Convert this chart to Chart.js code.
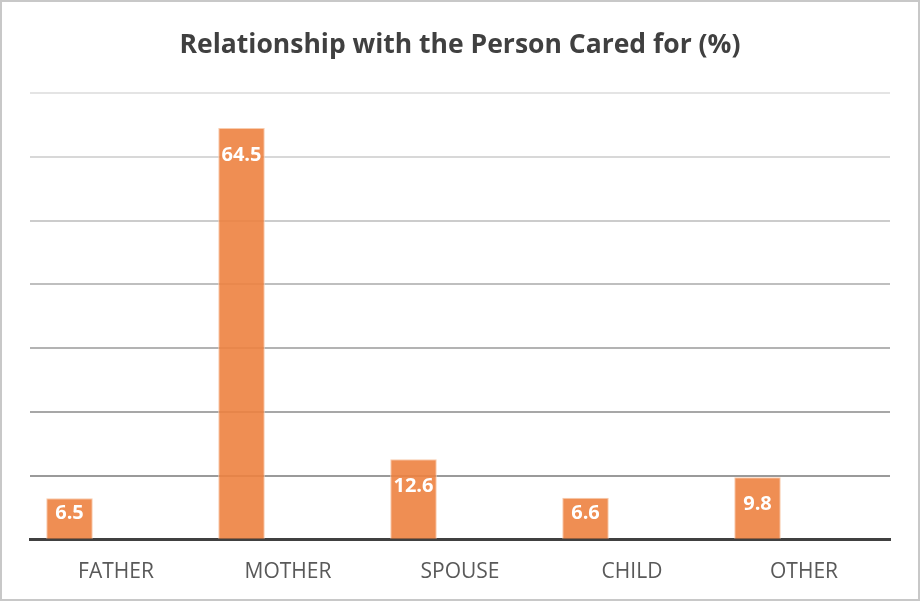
<!DOCTYPE html>
<html>
<head>
<meta charset="utf-8">
<title>Relationship with the Person Cared for (%)</title>
<script src="https://cdn.jsdelivr.net/npm/chart.js@4/dist/chart.umd.min.js"></script>
<style>
  html, body { margin: 0; padding: 0; background: #ffffff; }
  #box { width: 920px; height: 601px; }
</style>
</head>
<body>
<div id="box"><canvas id="chart" width="920" height="601"></canvas></div>
<script>
// Relationship of the carer to the person cared for, in percent
const categories = ['FATHER', 'MOTHER', 'SPOUSE', 'CHILD', 'OTHER'];
const shares = [6.5, 64.5, 12.6, 6.6, 9.8];
const axisMax = 70;
const axisStep = 10;

const FONT = '"Open Sans", "Liberation Sans", sans-serif';

// white background and thin grey frame around the whole chart
const framePlugin = {
  id: 'frame',
  beforeDraw(chart) {
    const c = chart.ctx;
    c.save();
    c.fillStyle = '#ffffff';
    c.fillRect(0, 0, chart.width, chart.height);
    c.restore();
  },
  afterDraw(chart) {
    const c = chart.ctx;
    c.save();
    c.strokeStyle = '#c8c8c8';
    c.lineWidth = 2;
    c.strokeRect(1, 1, chart.width - 2, chart.height - 2);
    c.restore();
  }
};

// value labels inside the top end of each bar
const valueLabels = {
  id: 'valueLabels',
  afterDatasetsDraw(chart) {
    const meta = chart.getDatasetMeta(0);
    const c = chart.ctx;
    c.save();
    c.font = 'bold 20px ' + FONT;
    c.fillStyle = '#ffffff';
    c.textAlign = 'center';
    c.textBaseline = 'middle';
    meta.data.forEach((bar, i) => {
      const h = bar.base - bar.y;
      const off = Math.min(27, h - 26);
      c.fillText(String(shares[i]), bar.x, bar.y + off);
    });
    c.restore();
  }
};

new Chart(document.getElementById('chart'), {
  type: 'bar',
  data: {
    labels: categories,
    datasets: [
      {
        label: 'Share (%)',
        data: shares,
        backgroundColor: 'rgba(237,130,64,0.9)',
        borderColor: '#f8ccae',
        borderWidth: 1,
        categoryPercentage: 0.811,
        barPercentage: 1.0
      },
      { label: '', data: [], categoryPercentage: 0.811, barPercentage: 1.0 },
      { label: '', data: [], categoryPercentage: 0.811, barPercentage: 1.0 }
    ]
  },
  options: {
    responsive: false,
    animation: false,
    layout: { padding: { left: 30, right: 30, top: 0, bottom: 4 } },
    plugins: {
      legend: { display: false },
      tooltip: { enabled: false },
      title: {
        display: true,
        text: 'Relationship with the Person Cared for (%)',
        color: '#404040',
        font: { family: FONT, size: 26.5, weight: 'bold' },
        padding: { top: 30, bottom: 31 }
      }
    },
    scales: {
      x: {
        z: 1,
        grid: { display: false },
        border: { display: true, color: '#404040', width: 3 },
        ticks: {
          color: '#595959',
          font: { family: FONT, size: 21 },
          padding: 12,
          maxRotation: 0
        }
      },
      y: {
        min: 0,
        max: axisMax,
        ticks: { display: false, stepSize: axisStep },
        border: { display: false },
        grid: {
          drawTicks: false,
          lineWidth: 2,
          color: (ctx) => {
            const v = ctx.tick ? ctx.tick.value : 0;
            if (v === 0) return 'rgba(0,0,0,0)';
            const g = Math.round(142 + 1.23 * v);
            return `rgb(${g},${g},${g})`;
          }
        },
        afterFit(scale) { scale.width = 0; }
      }
    }
  },
  plugins: [framePlugin, valueLabels]
});
</script>
</body>
</html>
